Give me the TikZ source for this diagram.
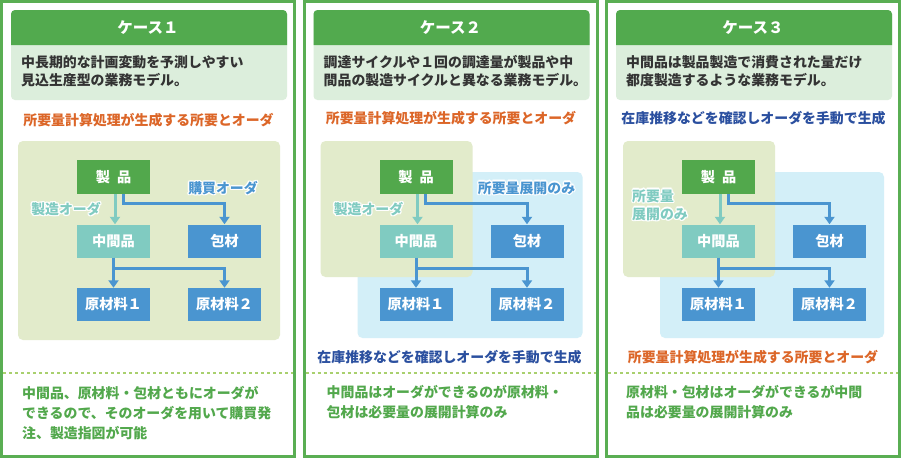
\documentclass[tikz,border=0pt]{standalone}
\usepackage{fontspec}
\setmainfont{Noto Sans CJK JP}
\usetikzlibrary{arrows.meta}
\definecolor{bordergreen}{HTML}{5AAE53}
\definecolor{hdrgreen}{HTML}{52AA4E}
\definecolor{descbg}{HTML}{DCEEDC}
\definecolor{desctext}{HTML}{333333}
\definecolor{orangetext}{HTML}{DC6628}
\definecolor{bluetext}{HTML}{2A4F9F}
\definecolor{olivebg}{HTML}{E2EBCB}
\definecolor{lightbluebg}{HTML}{D3EFF8}
\definecolor{nodegreen}{HTML}{52A84C}
\definecolor{nodeteal}{HTML}{80CBC1}
\definecolor{nodeblue}{HTML}{4A95D0}
\definecolor{bottomgreen}{HTML}{52A84C}
\definecolor{dashgreen}{HTML}{A9D06E}

\newcommand\halotext[2]{{\setbox0=\hbox{#2}%
 \rlap{\color{white}\kern1.3pt\copy0}%
 \rlap{\color{white}\kern-1.3pt\copy0}%
 \rlap{\color{white}\raise1.3pt\copy0}%
 \rlap{\color{white}\lower1.3pt\copy0}%
 \rlap{\color{white}\kern0.9pt\raise0.9pt\copy0}%
 \rlap{\color{white}\kern-0.9pt\raise0.9pt\copy0}%
 \rlap{\color{white}\kern0.9pt\lower0.9pt\copy0}%
 \rlap{\color{white}\kern-0.9pt\lower0.9pt\copy0}%
 {\color{#1}\box0}}}

% frame, header and description of a panel
\newcommand\panelframe[4]{%
 \draw[line width=3pt, bordergreen] (1.5,1.5) rectangle (294.5,456.5);
 \fill[descbg, rounded corners=4pt] (11,10) rectangle (287,100);
 \fill[hdrgreen] (11,45) [rounded corners=4pt] -- (11,10) -- (287,10) [sharp corners] -- (287,45) -- cycle;
 \node[hdrtext] (#1hdr) at (148,27.5) {#2};
 \node[desc, anchor=west] (#1desc) at (21,71) {#3};
 \draw[line width=2pt, dashgreen, dash pattern=on 3pt off 3pt] (3,373) -- (293,373);
}

% the flow of five nodes with connectors
\newcommand\flow[1]{%
 \node[gbox] (#1prod) at (113.5,177) {製\hspace{0.5em}品};
 \node[tbox] (#1mid) at (113.5,241) {中間品};
 \node[bbox] (#1pack) at (224.5,241) {包材};
 \node[bbox] (#1rawa) at (113.5,304.5) {原材料１};
 \node[bbox] (#1rawb) at (224.5,304.5) {原材料２};
 \draw[tline] ([xshift=1.5pt]#1prod.south) -- ([xshift=1.5pt]#1mid.north);
 \draw[bline] ([xshift=9.5pt]#1prod.south) -- ++(0,9) -| (#1pack.north);
 \draw[bline] (#1mid.south) -- (#1rawa.north);
 \draw[bline] (#1mid.south) ++(0,11) -| (#1rawb.north);
}

\begin{document}
\begin{tikzpicture}[x=1pt,y=-1pt,
 every node/.style={font=\bfseries\fontsize{13.9}{18}\selectfont, inner sep=0pt},
 hdrtext/.style={font=\bfseries\fontsize{15.5}{18}\selectfont, text=white},
 desc/.style={text=desctext, align=left},
 bottom/.style={text=bottomgreen, align=left, font=\bfseries\fontsize{13.9}{20}\selectfont},
 boxbase/.style={minimum width=73pt, minimum height=33pt, text=white, font=\bfseries\fontsize{14.2}{18}\selectfont},
 gbox/.style={boxbase, fill=nodegreen, minimum height=34pt},
 tbox/.style={boxbase, fill=nodeteal},
 bbox/.style={boxbase, fill=nodeblue},
 tline/.style={line width=3pt, nodeteal, -{Triangle[width=10pt,length=7.5pt]}},
 bline/.style={line width=3pt, nodeblue, -{Triangle[width=10pt,length=7.5pt]}},
]
\useasboundingbox (0,0) rectangle (901,458);
\fill[white] (0,0) rectangle (901,458);

% ---------- Panel 1 ----------
\begin{scope}
 \panelframe{a}{ケース１}{中長期的な計画変動を予測しやすい\\見込生産型の業務モデル。}{}
 \node[text=orangetext] (atop) at (148.5,120) {所要量計算処理が生成する所要とオーダ};
 \fill[olivebg, rounded corners=5pt] (18,141) rectangle (280,340);
 \flow{a}
 \node (alabm) at (66,209) {\halotext{nodeteal}{製造オーダ}};
 \node (alabp) at (223,188) {\halotext{nodeblue}{購買オーダ}};
 \node[bottom, anchor=west] (abot) at (22,413) {中間品、原材料・包材ともにオーダが\\できるので、そのオーダを用いて購買発\\注、製造指図が可能};
\end{scope}

% ---------- Panel 2 ----------
\begin{scope}[xshift=302.5pt]
 \panelframe{b}{ケース２}{調達サイクルや１回の調達量が製品や中\\間品の製造サイクルと異なる業務モデル。}{}
 \node[text=orangetext] (btop) at (148.5,118) {所要量計算処理が生成する所要とオーダ};
 \fill[lightbluebg, rounded corners=5pt] (55,172) rectangle (280,338);
 \fill[olivebg, rounded corners=5pt] (18,141) rectangle (170,277);
 \flow{b}
 \node (blabm) at (66,209) {\halotext{nodeteal}{製造オーダ}};
 \node (blabp) at (224,188) {\halotext{nodeblue}{所要量展開のみ}};
 \node[text=bluetext] (blow) at (147,357) {在庫推移などを確認しオーダを手動で生成};
 \node[bottom, anchor=west] (bbot) at (24,402.5) {中間品はオーダができるのが原材料・\\包材は必要量の展開計算のみ};
\end{scope}

% ---------- Panel 3 ----------
\begin{scope}[xshift=605pt]
 \panelframe{c}{ケース３}{中間品は製品製造で消費された量だけ\\都度製造するような業務モデル。}{}
 \node[text=bluetext] (ctop) at (148.5,118) {在庫推移などを確認しオーダを手動で生成};
 \fill[lightbluebg, rounded corners=5pt] (55,172) rectangle (279,338);
 \fill[olivebg, rounded corners=5pt] (18,141) rectangle (170,277);
 \flow{c}
 \node[align=left, anchor=west] (clabm) at (27,205) {\halotext{nodeteal}{所要量}\\\halotext{nodeteal}{展開のみ}};
 \node[text=orangetext] (clow) at (148,357) {所要量計算処理が生成する所要とオーダ};
 \node[bottom, anchor=west] (cbot) at (21,402.5) {原材料・包材はオーダができるが中間\\品は必要量の展開計算のみ};
\end{scope}
\end{tikzpicture}
\end{document}
